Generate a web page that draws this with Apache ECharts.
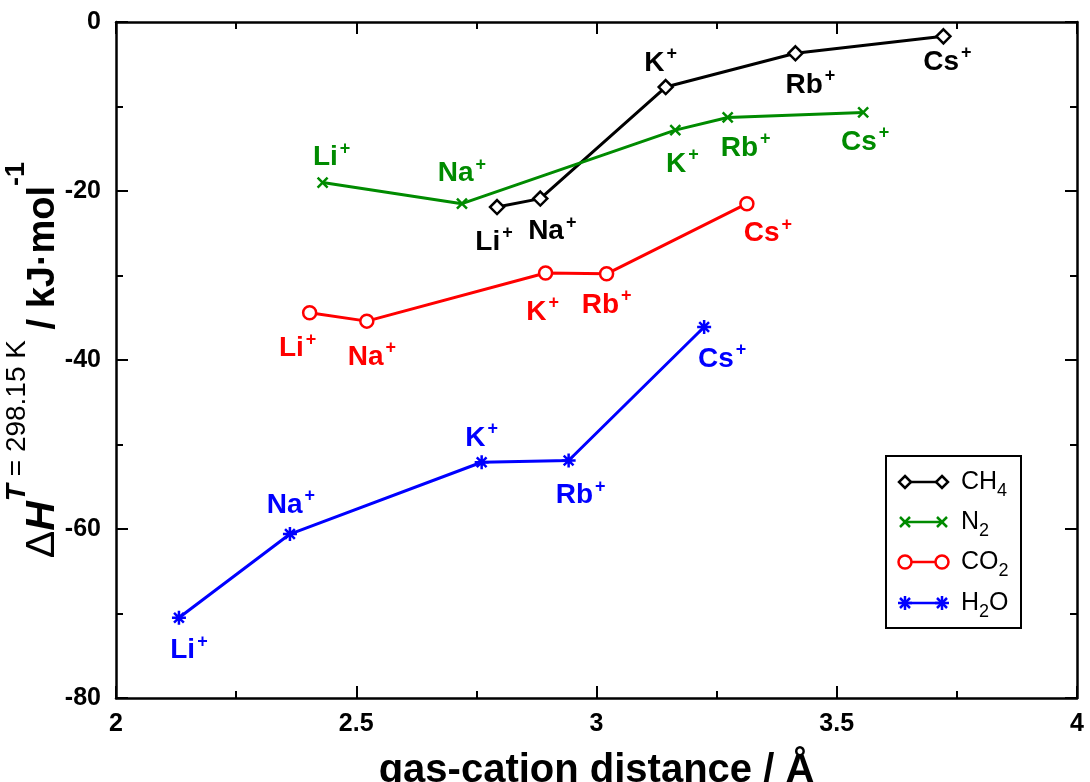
<!DOCTYPE html>
<html>
<head>
<meta charset="utf-8">
<script src="https://cdn.jsdelivr.net/npm/echarts@6/dist/echarts.min.js"></script>
<style>
html,body{margin:0;padding:0;background:#fff;}
#chart{width:1090px;height:782px;}
</style>
</head>
<body>
<div id="chart"></div>
<script>
// ---- data ----
const cations = ['Li', 'Na', 'K', 'Rb', 'Cs'];
const xCH4 = [2.793, 2.883, 3.144, 3.414, 3.722];
const yCH4 = [-21.9, -20.9, -7.7, -3.7, -1.7];
const xN2  = [2.430, 2.720, 3.164, 3.273, 3.555];
const yN2  = [-19.0, -21.5, -12.8, -11.3, -10.7];
const xCO2 = [2.403, 2.522, 2.894, 3.021, 3.313];
const yCO2 = [-34.4, -35.4, -29.7, -29.8, -21.5];
const xH2O = [2.131, 2.362, 2.761, 2.942, 3.224];
const yH2O = [-70.5, -60.6, -52.1, -51.9, -36.1];
const xTicks = [2, 2.5, 3, 3.5, 4];
const yTicks = [-80, -60, -40, -20, 0];

// ---- styling (label offsets relative to points, px) ----
const offCH4 = [[-3, 33], [12, 31], [-5, -26], [15, 30], [4, 24]];
const offN2  = [[9, -27], [0, -32], [7, 32], [18, 29], [2, 28]];
const offCO2 = [[-12, 34], [5, 34], [-3, 37], [0, 29], [21, 28]];
const offH2O = [[10, 31], [1, -31], [0, -26], [12, 33], [18, 30]];

const GREEN = '#008b00';
const FONT = '"Liberation Sans", Arial, sans-serif';

const asterisk = 'path://M5,0L5,10M0,5L10,5M1.5,1.5L8.5,8.5M8.5,1.5L1.5,8.5';
const cross = 'path://M0,0L10,10M10,0L0,10';

function mkData(xs, ys, offs) {
  return xs.map((x, i) => ({
    value: [x, ys[i]],
    name: cations[i],
    label: { offset: offs[i] }
  }));
}

function mkSeries(name, xs, ys, offs, color, symbol, size, fill, bw) {
  return {
    name: name,
    type: 'line',
    data: mkData(xs, ys, offs),
    symbol: symbol,
    symbolSize: size,
    showAllSymbol: true,
    lineStyle: { color: color, width: 3 },
    itemStyle: { color: fill, borderColor: color, borderWidth: bw },
    label: {
      show: true,
      position: 'inside',
      align: 'center',
      verticalAlign: 'middle',
      formatter: p => '{b|' + p.name + '}{s|+}',
      rich: {
        b: { fontFamily: FONT, fontWeight: 'bold', fontSize: 28, color: color, lineHeight: 32, verticalAlign: 'bottom' },
        s: { fontFamily: FONT, fontWeight: 'bold', fontSize: 18, color: color, lineHeight: 20, verticalAlign: 'top', padding: [0, 0, 0, 2] }
      }
    },
    emphasis: { disabled: true },
    animation: false,
    z: 3
  };
}

const axisCommonX = {
  type: 'value', min: 2, max: 4, interval: 0.5,
  axisLine: { show: true, onZero: false, lineStyle: { color: '#000', width: 2.5 } },
  axisTick: { show: true, inside: true, length: 12, lineStyle: { color: '#000', width: 2 } },
  minorTick: { show: true, splitNumber: 2, length: 7, lineStyle: { color: '#000', width: 2 } },
  splitLine: { show: false }
};
const axisCommonY = {
  type: 'value', min: -80, max: 0, interval: 20,
  axisLine: { show: true, onZero: false, lineStyle: { color: '#000', width: 2.5 } },
  axisTick: { show: true, inside: true, length: 12, lineStyle: { color: '#000', width: 2 } },
  minorTick: { show: true, splitNumber: 2, length: 7, lineStyle: { color: '#000', width: 2 } },
  splitLine: { show: false }
};

const chart = echarts.init(document.getElementById('chart'), null, { renderer: 'canvas' });

// legend drawn as graphic (symbol-line-symbol swatches)
const LX = 886, LY = 456;
const legendRows = [
  { y: 482, color: '#000', kind: 'diamond', main: 'CH', sub: '4' },
  { y: 522, color: GREEN, kind: 'cross', main: 'N', sub: '2' },
  { y: 562, color: '#ff0000', kind: 'circle', main: 'CO', sub: '2' },
  { y: 603, color: '#0000ff', kind: 'asterisk', main: 'H', sub: '2', tail: 'O' }
];
function seg(x1, y1, x2, y2, color) {
  return { type: 'line', z: 101, shape: { x1: x1, y1: y1, x2: x2, y2: y2 }, style: { stroke: color, lineWidth: 2.5 } };
}
function legendSymbol(kind, cx, cy, color) {
  if (kind === 'diamond') {
    return [{ type: 'polygon', shape: { points: [[cx, cy - 6], [cx + 6, cy], [cx, cy + 6], [cx - 6, cy]] }, style: { fill: '#fff', stroke: color, lineWidth: 2.5 }, z: 101 }];
  }
  if (kind === 'circle') {
    return [{ type: 'circle', shape: { cx: cx, cy: cy, r: 6.5 }, style: { fill: '#fff', stroke: color, lineWidth: 2.5 }, z: 101 }];
  }
  if (kind === 'cross') {
    return [seg(cx - 5, cy - 5, cx + 5, cy + 5, color), seg(cx + 5, cy - 5, cx - 5, cy + 5, color)];
  }
  return [
    seg(cx, cy - 7, cx, cy + 7, color), seg(cx - 7, cy, cx + 7, cy, color),
    seg(cx - 5, cy - 5, cx + 5, cy + 5, color), seg(cx + 5, cy - 5, cx - 5, cy + 5, color)
  ];
}
const legendEls = [
  { type: 'rect', shape: { x: LX, y: LY, width: 135, height: 172 }, style: { fill: '#fff', stroke: '#000', lineWidth: 2 }, z: 100 }
];
legendRows.forEach(r => {
  legendEls.push(seg(905, r.y, 942, r.y, r.color));
  legendSymbol(r.kind, 905, r.y, r.color).forEach(e => legendEls.push(e));
  legendSymbol(r.kind, 942, r.y, r.color).forEach(e => legendEls.push(e));
  legendEls.push({
    type: 'text', x: 961, y: r.y + 3, z: 101,
    style: {
      text: '{m|' + r.main + '}{s|' + r.sub + '}' + (r.tail ? '{m|' + r.tail + '}' : ''),
      verticalAlign: 'middle', align: 'left',
      rich: {
        m: { fontFamily: FONT, fontSize: 25, fill: '#000', lineHeight: 30, verticalAlign: 'top' },
        s: { fontFamily: FONT, fontSize: 18, fill: '#000', lineHeight: 20, verticalAlign: 'bottom' }
      }
    }
  });
});

const option = {
  backgroundColor: '#fff',
  animation: false,
  grid: { left: 116, right: 13, top: 22, bottom: 84, containLabel: false, outerBoundsMode: 'none' },
  xAxis: [
    Object.assign({}, axisCommonX, {
      position: 'bottom',
      axisLabel: { show: true, margin: 14, fontFamily: FONT, fontWeight: 'bold', fontSize: 25, color: '#000',
        formatter: v => xTicks.indexOf(v) >= 0 ? String(v) : '' },
      name: 'gas-cation distance / Å',
      nameLocation: 'middle',
      nameGap: 53,
      nameMoveOverlap: false,
      nameTextStyle: { fontFamily: FONT, fontWeight: 'bold', fontSize: 40, color: '#000' }
    }),
    Object.assign({}, axisCommonX, { position: 'top', axisLabel: { show: false } })
  ],
  yAxis: [
    Object.assign({}, axisCommonY, {
      position: 'left',
      axisLabel: { show: true, margin: 15, fontFamily: FONT, fontWeight: 'bold', fontSize: 25, color: '#000',
        formatter: v => yTicks.indexOf(v) >= 0 ? String(v) : '' },
      name: '{d|Δ}{h|H}{st|T}{sr| = 298.15 K}{u| / kJ·mol}{su|-1}',
      nameLocation: 'middle',
      nameRotate: 90,
      nameGap: 53,
      nameMoveOverlap: false,
      nameTextStyle: {
        color: '#000',
        rich: {
          d: { fontFamily: FONT, fontSize: 41, color: '#000', lineHeight: 60, verticalAlign: 'bottom' },
          h: { fontFamily: FONT, fontSize: 41, fontWeight: 'bold', fontStyle: 'italic', color: '#000', lineHeight: 60, verticalAlign: 'bottom' },
          st: { fontFamily: FONT, fontSize: 28, fontWeight: 'bold', fontStyle: 'italic', color: '#000', lineHeight: 50, verticalAlign: 'top' },
          sr: { fontFamily: FONT, fontSize: 28, color: '#000', lineHeight: 50, verticalAlign: 'top' },
          u: { fontFamily: FONT, fontSize: 38, fontWeight: 'bold', color: '#000', lineHeight: 60, verticalAlign: 'bottom' },
          su: { fontFamily: FONT, fontSize: 27, fontWeight: 'bold', color: '#000', lineHeight: 40, verticalAlign: 'top' }
        }
      }
    }),
    Object.assign({}, axisCommonY, { position: 'right', axisLabel: { show: false } })
  ],
  series: [
    mkSeries('CH4', xCH4, yCH4, offCH4, '#000', 'diamond', 14, '#fff', 2.5),
    mkSeries('N2', xN2, yN2, offN2, GREEN, cross, 10, 'none', 2.5),
    mkSeries('CO2', xCO2, yCO2, offCO2, '#ff0000', 'circle', 13, '#fff', 2.5),
    mkSeries('H2O', xH2O, yH2O, offH2O, '#0000ff', asterisk, 14, 'none', 2.5)
  ],
  graphic: legendEls
};
chart.setOption(option);
</script>
</body>
</html>
